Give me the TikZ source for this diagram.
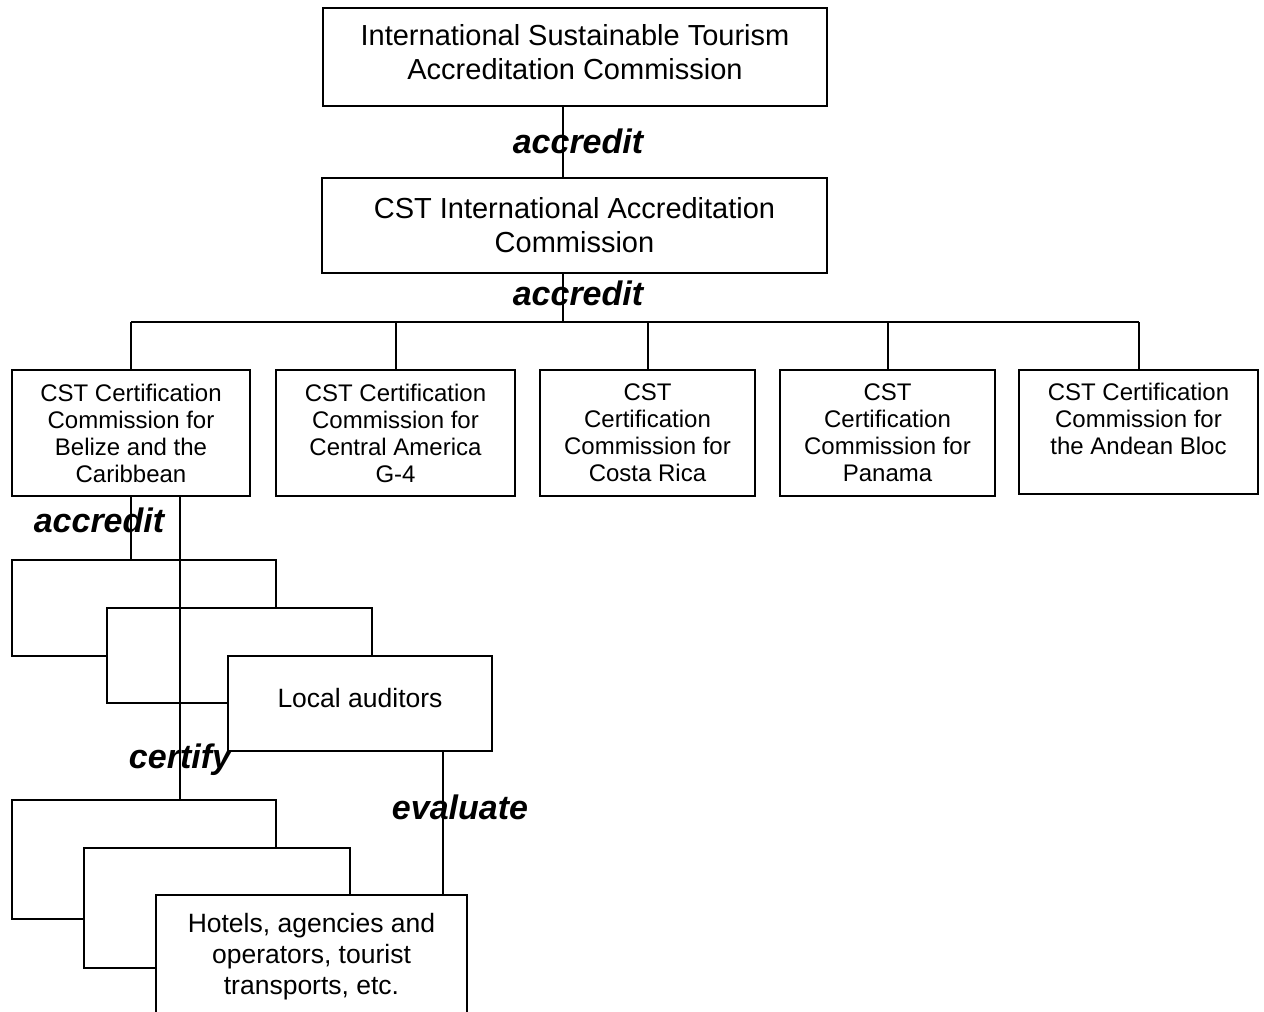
\documentclass[tikz,border=0pt]{standalone}
\usepackage{fontspec}
\setmainfont{Liberation Sans}

\begin{document}
\begin{tikzpicture}[x=0.5pt, y=-0.5pt, line width=1pt,
  box/.style={draw, fill=white, align=center, inner sep=0pt},
  bigtext/.style={font=\fontsize{14.5}{17}\selectfont},
  midtext/.style={font=\fontsize{12}{13.5}\selectfont},
  lowtext/.style={font=\fontsize{13.25}{15.5}\selectfont},
  verb/.style={font=\fontsize{17}{20}\selectfont\bfseries\itshape, inner sep=0pt}]
\useasboundingbox (0,0) rectangle (1264,1012);

\node[box, bigtext, text depth=5pt, minimum width=252pt, minimum height=49pt] (istac) at (575,57) {International Sustainable Tourism\\Accreditation Commission};
\node[box, bigtext, minimum width=252.5pt, minimum height=47.5pt] (iac) at (574.5,225.5) {CST International Accreditation\\Commission};

\node[box, midtext, minimum width=119pt, minimum height=63pt] (belize) at (131,433) {CST Certification\\Commission for\\Belize and the\\Caribbean};
\node[box, midtext, minimum width=119.5pt, minimum height=63pt] (cam) at (395.5,433) {CST Certification\\Commission for\\Central America\\G-4};
\node[box, midtext, minimum width=107.5pt, minimum height=63pt] (costa) at (647.5,433) {CST\\Certification\\Commission for\\Costa Rica};
\node[box, midtext, minimum width=107.5pt, minimum height=63pt] (panama) at (887.5,433) {CST\\Certification\\Commission for\\Panama};
\node[box, midtext, minimum width=119.5pt, minimum height=62pt] (andean) at (1138.5,432) {CST Certification\\Commission for\\the Andean Bloc\\~};

\coordinate (bus) at (563,322);
\draw (istac.south -| bus) -- (iac.north -| bus);
\draw (iac.south -| bus) -- (bus);
\draw (belize.north |- bus) -- (andean.north |- bus);
\foreach \b in {belize,cam,costa,panama,andean}
  \draw (\b.north) -- (\b.north |- bus);

% auditors
\node[box, minimum width=132pt, minimum height=48pt] (aud1) at (144,608) {};
\node[box, minimum width=132.5pt, minimum height=47.5pt] (aud2) at (239.5,655.5) {};
\node[box, lowtext, text depth=6pt, minimum width=132pt, minimum height=47.5pt] (auditors) at (360,703.5) {Local auditors};

% businesses
\node[box, minimum width=132pt, minimum height=59.5pt] (biz1) at (144,859.5) {};
\node[box, minimum width=133pt, minimum height=60pt] (biz2) at (217,908) {};
\node[box, lowtext, minimum width=155.5pt, minimum height=62pt] (hotels) at (311.5,957) {Hotels, agencies and\\operators, tourist\\transports, etc.};

\node[verb] (accA) at (578,141) {accredit};
\node[verb] (accB) at (578,293) {accredit};
\node[verb] (accC) at (99,520) {accredit};
\node[verb] (certify) at (180,760) {certify};
\node[verb] (evaluate) at (460,807) {evaluate};
\coordinate (evx) at (443,807);

\draw (belize.south) -- (belize.south |- aud1.north);
\draw (belize.south -| certify) -- (biz1.north -| certify);
\draw (auditors.south -| evx) -- (hotels.north -| evx);
\end{tikzpicture}
\end{document}
